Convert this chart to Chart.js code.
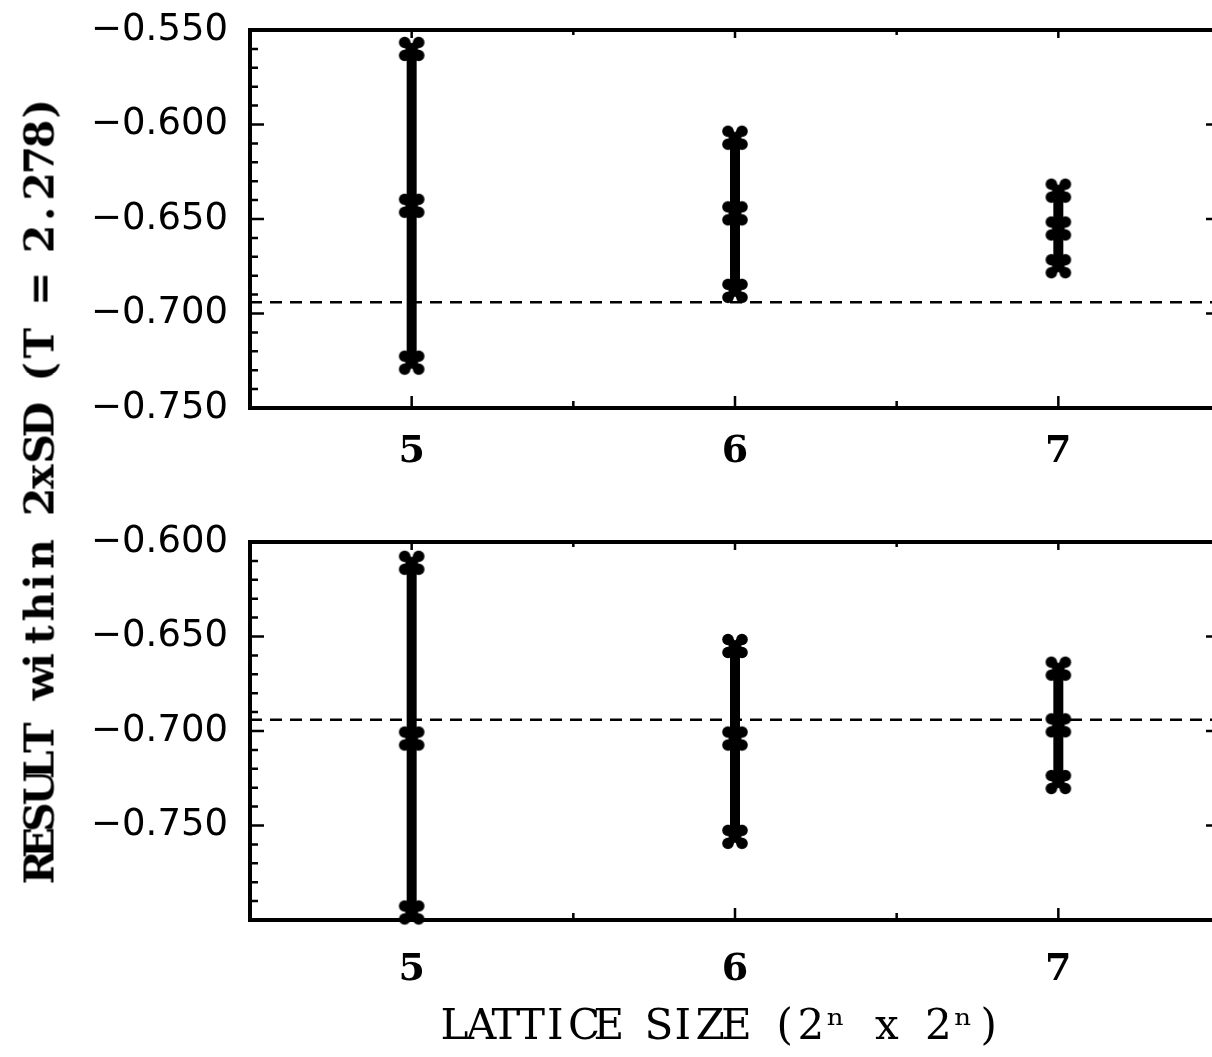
<!DOCTYPE html>
<html>
<head>
<meta charset="utf-8">
<script src="https://cdn.jsdelivr.net/npm/chart.js@4.4.0/dist/chart.umd.min.js"></script>
<style>
  html, body { margin: 0; padding: 0; background: #fff; overflow: hidden; width: 1212px; height: 1057px; }
  #upper { position: absolute; left: 0; top: 0; }
  #lower { position: absolute; left: 0; top: 500px; }
  .axis-title {
    position: absolute; color: #000; white-space: nowrap;
    font-family: "DejaVu Serif", serif; line-height: 1;
  }
  .axis-title span { display: inline-block; text-align: center; }
  #ytitle { left: 40px; top: 490px; font-size: 41px; font-weight: bold; transform: translate(-50%, -50%) rotate(-90deg); }
  #xtitle { left: 721px; top: 1025px; font-size: 42px; transform: translate(-50%, -50%); }
</style>
</head>
<body>
<canvas id="upper" width="1240" height="480"></canvas>
<canvas id="lower" width="1240" height="557"></canvas>
<div id="ytitle" class="axis-title"></div>
<div id="xtitle" class="axis-title"></div>
<script>
// lattice exponent n (lattice is 2^n x 2^n)
const latticeN = [5, 6, 7];

// upper panel: top of band, central value, bottom of band
const upperHigh = [-0.560, -0.607, -0.635];
const upperMid  = [-0.643, -0.647, -0.655];
const upperLow  = [-0.726, -0.688, -0.675];

// lower panel
const lowerHigh = [-0.611, -0.655, -0.667];
const lowerMid  = [-0.704, -0.704, -0.697];
const lowerLow  = [-0.796, -0.756, -0.727];

// exact value, dashed reference line
const exactValue = -0.694;

const upperYTicks = [-0.55, -0.60, -0.65, -0.70, -0.75];
const lowerYTicks = [-0.60, -0.65, -0.70, -0.75];

const yTitle = 'RESULT within 2xSD (T = 2.278)';
const xTitle = 'LATTICE SIZE (2\u207F x 2\u207F)';

// typewriter-style titles: every character gets the same cell width
function typewriter(id, text, cell) {
  const el = document.getElementById(id);
  for (const ch of text) {
    const s = document.createElement('span');
    s.textContent = ch;
    s.style.width = cell + 'px';
    el.appendChild(s);
  }
}
typewriter('ytitle', yTitle, 26.3);
typewriter('xtitle', xTitle, 25.5);

// bold X with round lobes
function makeMarker() {
  const c = document.createElement('canvas');
  c.width = 32; c.height = 32;
  const g = c.getContext('2d');
  g.translate(16, 16);
  g.strokeStyle = g.fillStyle = '#000';
  g.lineWidth = 8; g.lineCap = 'round';
  g.beginPath();
  g.moveTo(-7, -6.5); g.lineTo(7, 6.5);
  g.moveTo(7, -6.5); g.lineTo(-7, 6.5);
  g.stroke();
  [[-7, -6.5], [7, 6.5], [7, -6.5], [-7, 6.5]].forEach(function(p) {
    g.beginPath(); g.arc(p[0], p[1], 5.8, 0, Math.PI * 2); g.fill();
  });
  return c;
}
const marker = makeMarker();

// box frame with inward ticks on all four sides
const frameTicks = {
  id: 'frameTicks',
  afterDatasetsDraw(chart) {
    const ctx = chart.ctx, a = chart.chartArea, x = chart.scales.x, y = chart.scales.y;
    ctx.save();
    ctx.strokeStyle = '#000';
    ctx.lineWidth = 2.5;
    ctx.beginPath();
    const steps = Math.round((y.max - y.min) / 0.01);
    for (let i = 1; i < steps; i++) {
      const py = y.getPixelForValue(y.min + i * 0.01);
      const len = (i % 5 === 0) ? 14 : 8;
      ctx.moveTo(a.left, py); ctx.lineTo(a.left + len, py);
      ctx.moveTo(a.right, py); ctx.lineTo(a.right - len, py);
    }
    latticeN.forEach(function(n, i) {
      const px = x.getPixelForValue(n);
      ctx.moveTo(px, a.bottom); ctx.lineTo(px, a.bottom - 12);
      ctx.moveTo(px, a.top); ctx.lineTo(px, a.top + 8);
      if (i < latticeN.length - 1) {
        const pm = x.getPixelForValue((n + latticeN[i + 1]) / 2);
        ctx.moveTo(pm, a.bottom); ctx.lineTo(pm, a.bottom - 7);
        ctx.moveTo(pm, a.top); ctx.lineTo(pm, a.top + 5);
      }
    });
    ctx.stroke();
    ctx.lineWidth = 4;
    ctx.strokeRect(a.left, a.top, a.right - a.left, a.bottom - a.top);
    ctx.restore();
  }
};

function buildDatasets(high, mid, low) {
  const sets = [];
  latticeN.forEach(function(n, i) {
    sets.push({
      data: [{x: n, y: low[i]}, {x: n, y: high[i]}],
      borderColor: '#000', borderWidth: 10, pointRadius: 0, borderCapStyle: 'butt'
    });
  });
  sets.push({
    data: [{x: 4.5, y: exactValue}, {x: 7.5, y: exactValue}],
    borderColor: '#000', borderWidth: 2.5, borderDash: [12, 8], pointRadius: 0
  });
  const pts = [];
  latticeN.forEach(function(n, i) {
    [high[i], mid[i], low[i]].forEach(function(v) { pts.push({x: n, y: v}); });
  });
  sets.push({
    data: pts, showLine: false, pointStyle: marker, pointRadius: 14, clip: false
  });
  return sets;
}

function buildConfig(datasets, yMin, yMax, yTicks, padTop, xHeight, xPad) {
  return {
    type: 'line',
    data: { datasets: datasets },
    options: {
      responsive: false,
      animation: false,
      layout: { padding: { top: padTop, right: 20, left: 0, bottom: 0 } },
      plugins: { legend: { display: false }, tooltip: { enabled: false } },
      scales: {
        x: {
          type: 'linear', min: 4.5, max: 7.5,
          afterBuildTicks: function(s) { s.ticks = latticeN.map(function(v) { return {value: v}; }); },
          afterFit: function(s) { s.height = xHeight; s.paddingLeft = 0; s.paddingRight = 0; },
          grid: { display: false, drawTicks: false },
          border: { display: false },
          ticks: {
            color: '#000', padding: xPad, maxRotation: 0, autoSkip: false,
            font: { family: 'DejaVu Serif', size: 38, weight: 'bold' }
          }
        },
        y: {
          type: 'linear', min: yMin, max: yMax,
          afterBuildTicks: function(s) { s.ticks = yTicks.map(function(v) { return {value: v}; }); },
          afterFit: function(s) { s.width = 250; s.paddingTop = 0; s.paddingBottom = 0; },
          grid: { display: false, drawTicks: false },
          border: { display: false },
          ticks: {
            color: '#000', padding: 22,
            font: { family: 'DejaVu Sans', size: 37 },
            callback: function(v) { return '\u2212' + Math.abs(v).toFixed(3); }
          }
        }
      }
    },
    plugins: [frameTicks]
  };
}

new Chart(document.getElementById('upper').getContext('2d'),
  buildConfig(buildDatasets(upperHigh, upperMid, upperLow), -0.75, -0.55, upperYTicks, 30, 72, 21));

new Chart(document.getElementById('lower').getContext('2d'),
  buildConfig(buildDatasets(lowerHigh, lowerMid, lowerLow), -0.80, -0.60, lowerYTicks, 42, 137, 27));
</script>
</body>
</html>
